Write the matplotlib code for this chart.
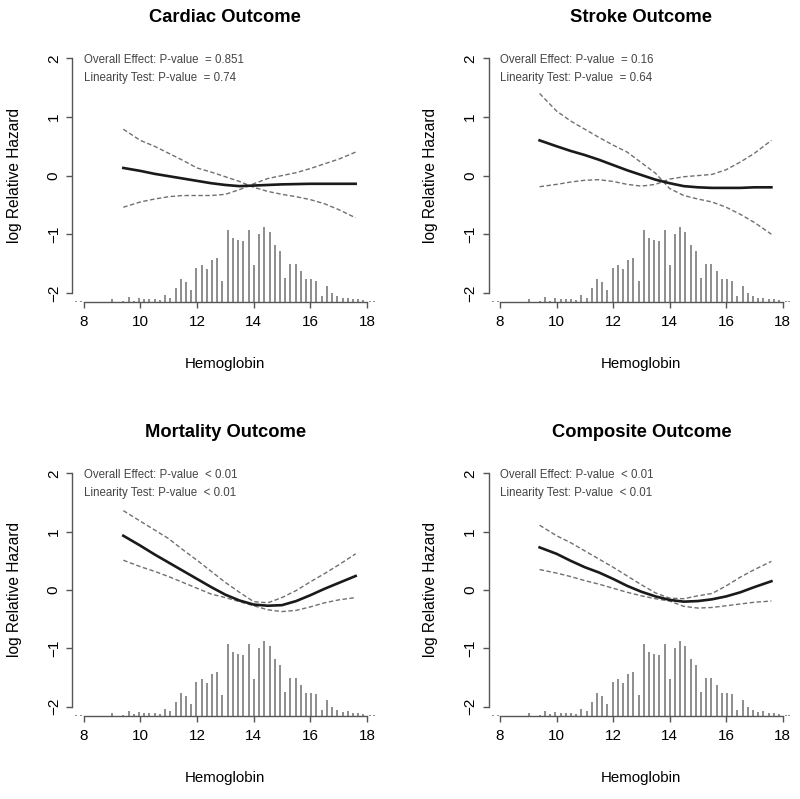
import numpy as np
import matplotlib
matplotlib.use('Agg')
import matplotlib.pyplot as plt

plt.rcParams['font.family'] = ['Liberation Sans', 'DejaVu Sans']

# hemoglobin grid where the fitted curves were read
hb = [9.4, 10.0, 10.5, 11.0, 11.5, 12.0, 12.5, 13.0, 13.5, 14.0, 14.5,
      15.0, 15.5, 16.0, 16.5, 17.0, 17.6]

# log relative hazard (fit, upper CI, lower CI) for each outcome
cardiac_fit = [0.13, 0.08, 0.03, -0.01, -0.05, -0.09, -0.13, -0.16, -0.18, -0.17, -0.16,
               -0.15, -0.145, -0.14, -0.14, -0.14, -0.14]
cardiac_hi = [0.79, 0.60, 0.50, 0.38, 0.26, 0.13, 0.06, -0.02, -0.10, -0.20, -0.27,
              -0.32, -0.36, -0.41, -0.48, -0.58, -0.72]
cardiac_lo = [-0.54, -0.45, -0.40, -0.36, -0.34, -0.34, -0.34, -0.32, -0.24, -0.14, -0.05,
              0.0, 0.05, 0.12, 0.20, 0.28, 0.40]

stroke_fit = [0.60, 0.50, 0.42, 0.35, 0.27, 0.18, 0.09, 0.01, -0.07, -0.13, -0.18,
              -0.20, -0.21, -0.21, -0.21, -0.20, -0.20]
stroke_hi = [1.40, 1.10, 0.93, 0.79, 0.65, 0.52, 0.40, 0.22, 0.04, -0.22, -0.34,
             -0.40, -0.45, -0.54, -0.66, -0.80, -1.00]
stroke_lo = [-0.19, -0.15, -0.11, -0.08, -0.07, -0.10, -0.15, -0.18, -0.15, -0.06, -0.02,
             0.0, 0.02, 0.10, 0.23, 0.38, 0.60]

mort_fit = [0.93, 0.76, 0.61, 0.47, 0.33, 0.19, 0.05, -0.08, -0.18, -0.25, -0.27,
            -0.26, -0.19, -0.09, 0.02, 0.12, 0.24]
mort_hi = [1.36, 1.18, 1.03, 0.88, 0.69, 0.51, 0.32, 0.13, -0.04, -0.20, -0.22,
           -0.13, -0.01, 0.14, 0.28, 0.43, 0.62]
mort_lo = [0.51, 0.40, 0.32, 0.23, 0.13, 0.03, -0.07, -0.13, -0.20, -0.27, -0.34,
           -0.37, -0.35, -0.29, -0.22, -0.17, -0.13]

comp_fit = [0.73, 0.62, 0.50, 0.39, 0.30, 0.19, 0.07, -0.03, -0.11, -0.17, -0.20,
            -0.19, -0.16, -0.11, -0.04, 0.05, 0.15]
comp_hi = [1.11, 0.93, 0.81, 0.67, 0.53, 0.39, 0.24, 0.09, -0.05, -0.14, -0.15,
           -0.10, -0.06, 0.07, 0.22, 0.35, 0.49]
comp_lo = [0.35, 0.29, 0.23, 0.16, 0.10, 0.03, -0.04, -0.10, -0.15, -0.19, -0.28,
           -0.31, -0.30, -0.27, -0.24, -0.21, -0.19]

# spike histogram of hemoglobin (height in y units above the bottom)
spike_x = [7.74, 7.92, 9.01, 9.40, 9.59, 9.78, 9.95, 10.14, 10.32, 10.51, 10.69, 10.87,
           11.06, 11.25, 11.43, 11.62, 11.79, 11.98, 12.17, 12.35, 12.53, 12.72,
           12.90, 13.09, 13.27, 13.45, 13.63, 13.82, 14.01, 14.19, 14.38, 14.56,
           14.75, 14.93, 15.11, 15.30, 15.48, 15.67, 15.84, 16.03, 16.21, 16.40,
           16.59, 16.76, 16.95, 17.14, 17.32, 17.51, 17.68, 17.87, 18.10, 18.24]
spike_h = [0.015, 0.015, 0.05, 0.02, 0.09, 0.03, 0.07, 0.05, 0.05, 0.05, 0.04, 0.12,
           0.08, 0.24, 0.40, 0.35, 0.21, 0.58, 0.64, 0.56, 0.72, 0.75,
           0.36, 1.23, 1.10, 1.06, 1.04, 1.23, 0.63, 1.17, 1.29, 1.20,
           0.98, 0.87, 0.41, 0.65, 0.65, 0.53, 0.39, 0.40, 0.37, 0.10,
           0.28, 0.15, 0.10, 0.07, 0.08, 0.05, 0.05, 0.04, 0.015, 0.015]

titles = ['Cardiac Outcome', 'Stroke Outcome', 'Mortality Outcome', 'Composite Outcome']
overall_p = ['= 0.851', '= 0.16', '< 0.01', '< 0.01']
linear_p = ['= 0.74', '= 0.64', '< 0.01', '< 0.01']
curves = [(cardiac_fit, cardiac_hi, cardiac_lo),
          (stroke_fit, stroke_hi, stroke_lo),
          (mort_fit, mort_hi, mort_lo),
          (comp_fit, comp_hi, comp_lo)]

fig = plt.figure(figsize=(8.0, 7.99), dpi=100)
positions = [[0.0904, 0.6217, 0.3825, 0.3171],
             [0.6109, 0.6217, 0.3816, 0.3171],
             [0.0904, 0.1039, 0.3825, 0.3154],
             [0.6109, 0.1039, 0.3816, 0.3154]]

ymin = -2.16
axc = '#555555'
for i in range(4):
    ax = fig.add_axes(positions[i])
    fit, hi, lo = curves[i]
    ax.vlines(spike_x, ymin, [ymin + h for h in spike_h], color='#7a7a7a', lw=1.2)
    ax.plot(hb, hi, color='#707070', lw=1.0, ls=(0, (3.2, 1.8)))
    ax.plot(hb, lo, color='#707070', lw=1.0, ls=(0, (3.2, 1.8)))
    ax.plot(hb, fit, color='#1a1a1a', lw=1.9)

    ax.set_xlim(7.6, 18.4)
    ax.set_ylim(ymin, 2.16)
    ax.set_xticks([8, 10, 12, 14, 16, 18])
    ax.set_yticks([-2, -1, 0, 1, 2])
    for s in ['top', 'right']:
        ax.spines[s].set_visible(False)
    ax.spines['left'].set_bounds(-2, 2)
    ax.spines['bottom'].set_bounds(8, 18)
    for s in ['left', 'bottom']:
        ax.spines[s].set_color(axc)
        ax.spines[s].set_linewidth(1.0)
    ax.tick_params(axis='both', direction='out', length=4.3, width=1.0, color=axc,
                   labelsize=11, labelcolor='black')
    ax.tick_params(axis='x', pad=5)
    ax.tick_params(axis='y', pad=4)
    for lab in ax.get_yticklabels():
        lab.set_rotation(90)
        lab.set_va('center')

    ax.set_title(titles[i], fontsize=13.2, fontweight='bold', pad=19.5)
    ax.set_xlabel('Hemoglobin', fontsize=10.8)
    ax.xaxis.set_label_coords(0.5, -0.218)
    ax.set_ylabel('log Relative Hazard', fontsize=11.2)
    ax.yaxis.set_label_coords(-0.165, 0.5)

    ax.text(8.0, 1.97, 'Overall Effect: P-value  ' + overall_p[i], fontsize=8.3,
            color='#444444', ha='left', va='center')
    ax.text(8.0, 1.66, 'Linearity Test: P-value  ' + linear_p[i], fontsize=8.3,
            color='#444444', ha='left', va='center')

plt.savefig('out.png', dpi=100)
